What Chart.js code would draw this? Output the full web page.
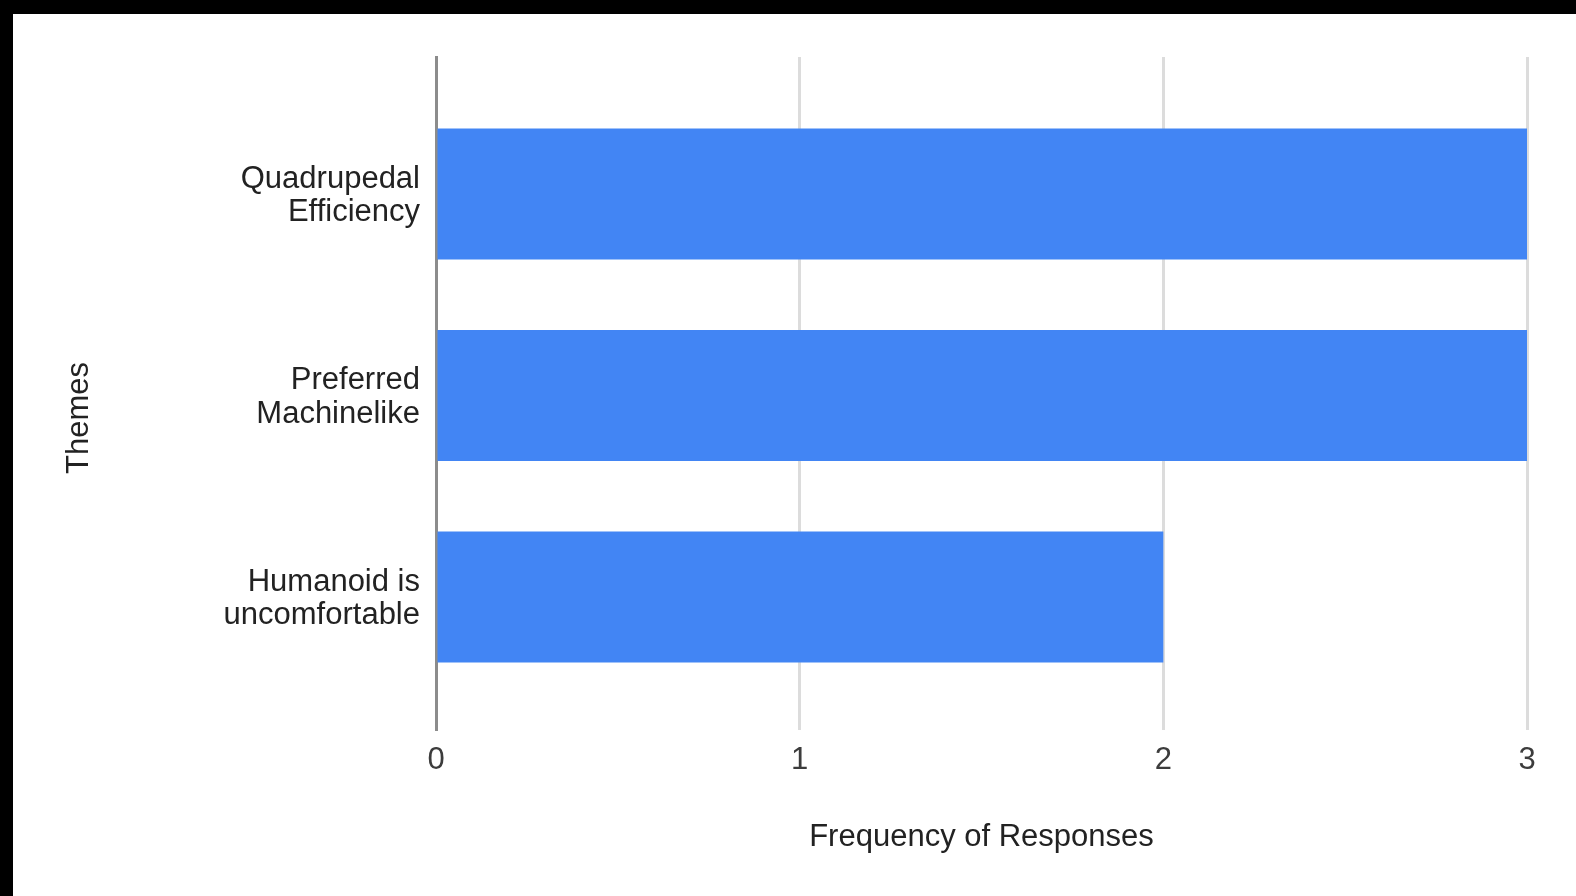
<!DOCTYPE html>
<html>
<head>
<meta charset="utf-8">
<script src="https://cdn.jsdelivr.net/npm/chart.js@4/dist/chart.umd.min.js"></script>
<style>
  html, body { margin: 0; padding: 0; background: #000; width: 1576px; height: 896px; overflow: hidden; }
  #frame { position: absolute; left: 13px; top: 14px; width: 1563px; height: 882px; background: #fff; }
  canvas { display: block; }
</style>
</head>
<body>
<div id="frame"><canvas id="chart" width="1563" height="882"></canvas></div>
<script>
// Themes and how many responses mentioned each
const categories = [
  ["Quadrupedal", "Efficiency"],
  ["Preferred", "Machinelike"],
  ["Humanoid is", "uncomfortable"]
];
const responses = [3, 3, 2];
const xTickValues = [0, 1, 2, 3];
const xAxisTitle = "Frequency of Responses";
const yAxisTitle = "Themes";

const FONT = "'Liberation Sans', Arial, sans-serif";

// Vertical axis title, centred on the left margin
const yTitlePlugin = {
  id: 'yTitle',
  afterDraw(chart) {
    const ctx = chart.ctx;
    ctx.save();
    ctx.translate(66, 404);
    ctx.rotate(-Math.PI / 2);
    ctx.font = `31px ${FONT}`;
    ctx.fillStyle = '#222';
    ctx.textAlign = 'center';
    ctx.textBaseline = 'middle';
    ctx.fillText(yAxisTitle, 0, 0);
    ctx.restore();
  }
};

new Chart(document.getElementById('chart'), {
  type: 'bar',
  data: {
    datasets: [{
      data: responses.map((v, i) => ({ x: v, y: i })),
      backgroundColor: '#4285F4',
      borderWidth: 0,
      categoryPercentage: 1,
      barPercentage: 0.65
    }]
  },
  options: {
    indexAxis: 'y',
    responsive: false,
    animation: false,
    layout: { padding: { top: 43, right: 49, bottom: 40, left: 0 } },
    plugins: { legend: { display: false }, tooltip: { enabled: false } },
    scales: {
      x: {
        type: 'linear',
        min: 0,
        max: 3,
        offset: false,
        afterBuildTicks(scale) { scale.ticks = xTickValues.map(v => ({ value: v })); },
        afterFit(scale) { scale.height = 126; },
        ticks: { color: '#3c3c3c', font: { family: FONT, size: 31 }, padding: 12 },
        grid: { color: '#dcdcdc', lineWidth: 3, drawTicks: false },
        border: { display: false },
        title: {
          display: true,
          text: xAxisTitle,
          color: '#222',
          font: { family: FONT, size: 31, lineHeight: 1.2 },
          padding: { top: 0, bottom: 0 }
        }
      },
      y: {
        type: 'linear',
        reverse: true,
        offset: false,
        min: -0.68,
        max: 2.66,
        afterBuildTicks(scale) { scale.ticks = categories.map((_, i) => ({ value: i })); },
        afterFit(scale) {
          scale.width = 423;
          // category labels sit well inside the plot, so no edge padding is needed
          scale.paddingTop = 0;
          scale.paddingBottom = 0;
        },
        ticks: {
          color: '#222',
          font: { family: FONT, size: 31, lineHeight: 1.07 },
          padding: 16,
          labelOffset: 2,
          callback: (v) => categories[v]
        },
        grid: { display: false, drawTicks: false, tickLength: 0 },
        border: { display: true, color: '#8c8c8c', width: 3 }
      }
    }
  },
  plugins: [yTitlePlugin]
});
</script>
</body>
</html>
